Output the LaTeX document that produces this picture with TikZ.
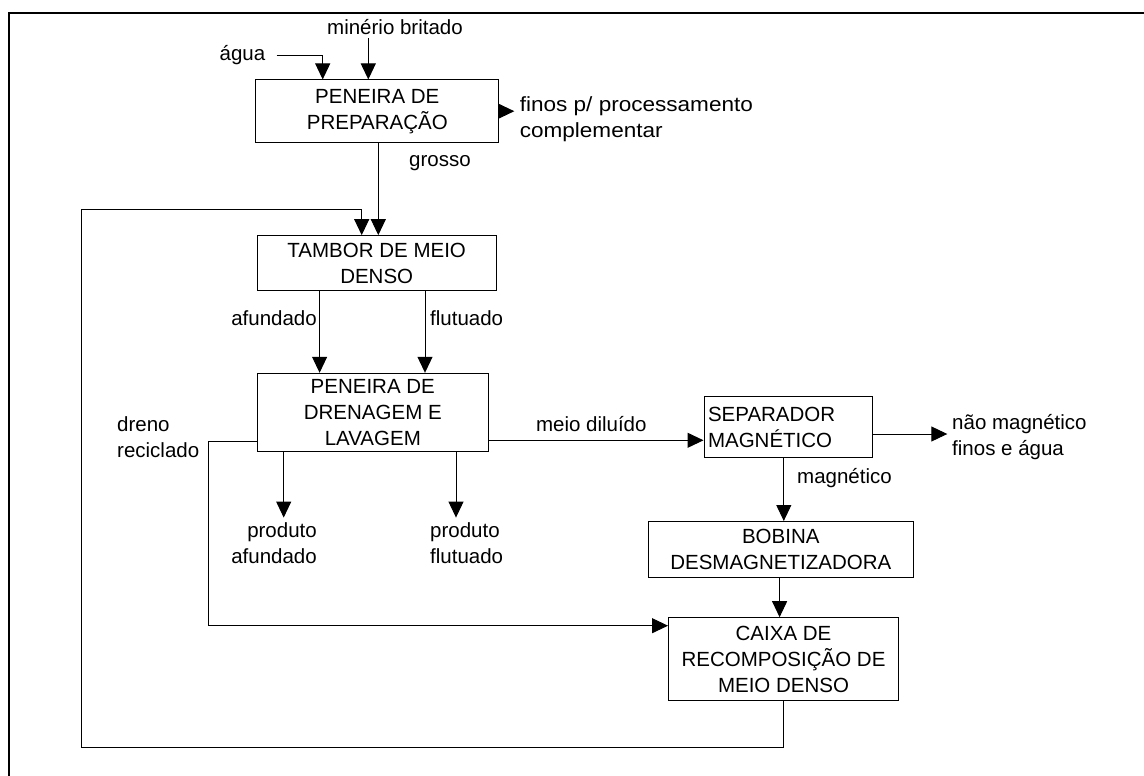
\documentclass[tikz,border=0pt]{standalone}
\usepackage{fontspec}
\setmainfont{Liberation Sans}
\usetikzlibrary{arrows.meta,positioning,calc}

\tikzset{
  unit_box/.style = {draw, line width=1pt, align=center, inner sep=0pt, font=\fontsize{20.5}{26}\selectfont},
  flow_label/.style = {inner sep=0pt, font=\fontsize{20.5}{26}\selectfont},
  flow/.style = {line width=1pt, -{Triangle[length=16pt,width=15pt]}},
}

\begin{document}
\begin{tikzpicture}[x=1pt,y=-1pt]
        \useasboundingbox (0,0) rectangle (1144,776);

        % draw the frame
        \draw[line width=2pt] (8.6,776) -- (8.6,13.3) -- (1144,13.3);

        % draw the units
        \node[unit_box, minimum width=243pt, minimum height=62.5pt] (prep_box) at (377.3,111.2) {PENEIRA DE\\PREPARAÇÃO};
        \node[unit_box, minimum width=239.4pt, minimum height=55.3pt] (tambor_box) at (376.7,263.3) {TAMBOR DE MEIO\\DENSO};
        \node[unit_box, minimum width=231.6pt, minimum height=78.4pt] (dren_box) at (372.8,412.5) {PENEIRA DE\\DRENAGEM E\\LAVAGEM};
        \node[unit_box, align=left, text width=160pt, minimum width=168pt, minimum height=60.6pt] (sep_box) at (788,427) {SEPARADOR\\MAGNÉTICO};
        \node[unit_box, minimum width=264.4pt, minimum height=55.8pt] (bob_box) at (780.8,549.4) {BOBINA\\DESMAGNETIZADORA};
        \node[unit_box, minimum width=230pt, minimum height=83pt] (caixa_box) at (783.5,659.2) {CAIXA DE\\RECOMPOSIÇÃO DE\\MEIO DENSO};

        % draw the labels
        \node[flow_label] (agua_lbl) at (242.5,55) {água};
        \node[flow_label] (minerio_lbl) at (395,26.7) {minério britado};
        \node[flow_label, anchor=west, align=left, font=\fontsize{20.5}{25.5}\selectfont] (finos_lbl) at (519.6,119.2) {\scalebox{1.1}[1]{finos p/ processamento}\\\scalebox{1.1}[1]{complementar}};
        \node[flow_label, anchor=west] (grosso_lbl) at (409,163) {grosso};
        \node[flow_label, anchor=east] (afund_lbl) at (317,318.3) {afundado};
        \node[flow_label, anchor=west] (flut_lbl) at (430,318.3) {flutuado};
        \node[flow_label, anchor=west, align=left] (dreno_lbl) at (117,437) {dreno\\reciclado};
        \node[flow_label, anchor=east, align=right] (prod_afund_lbl) at (317,543.3) {produto\\afundado};
        \node[flow_label, anchor=west, align=left] (prod_flut_lbl) at (430,543.3) {produto\\flutuado};
        \node[flow_label] (meio_lbl) at (591.3,424) {meio diluído};
        \node[flow_label, anchor=west, align=left] (naomag_lbl) at (952,437) {não magnético\\finos e água};
        \node[flow_label, anchor=west] (mag_lbl) at (797,477.7) {magnético};

        % define the turning points
        \coordinate (agua_turn) at (322.7,55.7);
        \coordinate (minerio_in) at (368.3,38.3);
        \coordinate (finos_out) at (514.3,111.2);
        \coordinate (naomag_out) at (947.3,434);
        \coordinate (meio_y) at (0,440.3);
        \coordinate (dreno_turn) at (208.5,625.7);
        \coordinate (ret_low) at (81.4,747);
        \coordinate (ret_high) at (361.7,209.3);

        % draw the feed arrows
        \draw[flow] ($(agua_lbl.east) + (11,0.7)$) -| (prep_box.north -| agua_turn);
        \draw[flow] (minerio_in) -- (prep_box.north -| minerio_in);
        \draw[flow] (prep_box.east) -- (finos_out);

        % draw the connecting arrows
        \draw[flow] (prep_box.south -| 378.3,0) -- (tambor_box.north -| 378.3,0);
        \draw[flow] (tambor_box.south -| 319.6,0) -- (dren_box.north -| 319.6,0);
        \draw[flow] (tambor_box.south -| 425,0) -- (dren_box.north -| 425,0);
        \draw[flow] (dren_box.south -| 283.7,0) -- ($(prod_afund_lbl.north -| 283.7,0) + (0,-5)$);
        \draw[flow] (dren_box.south -| 456,0) -- ($(prod_flut_lbl.north -| 456,0) + (0,-5)$);
        \draw[flow] (dren_box.east |- meio_y) -- (sep_box.west |- meio_y);
        \draw[flow] (sep_box.east |- naomag_out) -- (naomag_out);
        \draw[flow] (sep_box.south -| 783.8,0) -- (bob_box.north -| 783.8,0);
        \draw[flow] (bob_box.south -| 779.6,0) -- (caixa_box.north -| 779.6,0);

        % draw the recycle loops
        \draw[flow] (dren_box.west |- 0,441.7) -| (dreno_turn) -- (caixa_box.west |- dreno_turn);
        \draw[flow] (caixa_box.south) |- (ret_low) |- (ret_high) -- (tambor_box.north -| ret_high);

\end{tikzpicture}
\end{document}
